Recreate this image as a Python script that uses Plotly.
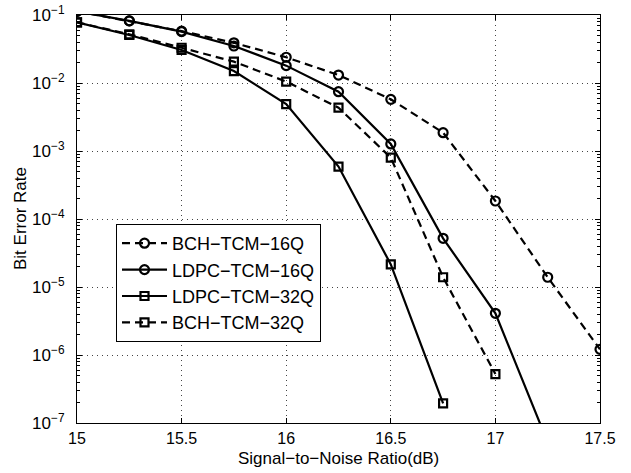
import plotly.graph_objects as go

bch_16q_x = [15, 15.25, 15.5, 15.75, 16, 16.25, 16.5, 16.75, 17, 17.25, 17.5]
bch_16q = [0.113, 0.082, 0.058, 0.039, 0.0239, 0.0131, 0.00575, 0.00186, 1.84e-4, 1.39e-5, 1.21e-6]

ldpc_16q_x = [15, 15.25, 15.5, 15.75, 16, 16.25, 16.5, 16.75, 17, 17.25]
ldpc_16q = [0.113, 0.082, 0.057, 0.035, 0.018, 0.00745, 0.00127, 5.2e-5, 4.1e-6, 5.2e-8]

ldpc_32q_x = [15, 15.25, 15.5, 15.75, 16, 16.25, 16.5, 16.75]
ldpc_32q = [0.078, 0.0508, 0.0306, 0.015, 0.0049, 5.9e-4, 2.15e-5, 1.95e-7]

bch_32q_x = [15, 15.25, 15.5, 15.75, 16, 16.25, 16.5, 16.75, 17]
bch_32q = [0.078, 0.052, 0.033, 0.0206, 0.0105, 0.00434, 7.98e-4, 1.39e-5, 5.25e-7]

names = ["BCH\u2212TCM\u221216Q", "LDPC\u2212TCM\u221216Q", "LDPC\u2212TCM\u221232Q", "BCH\u2212TCM\u221232Q"]

y_tickvals = [1e-7, 1e-6, 1e-5, 1e-4, 1e-3, 1e-2, 1e-1]
y_ticktext = ["10<sup>\u22127</sup>", "10<sup>\u22126</sup>", "10<sup>\u22125</sup>",
              "10<sup>\u22124</sup>", "10<sup>\u22123</sup>", "10<sup>\u22122</sup>",
              "10<sup>\u22121</sup>"]
x_tickvals = [15, 15.5, 16, 16.5, 17, 17.5]
x_ticktext = ["15", "15.5", "16", "16.5", "17", "17.5"]

x_title = "Signal\u2212to\u2212Noise Ratio(dB)"
y_title = "Bit Error Rate"

minor_y = [m * 10 ** e for e in range(-7, -1) for m in range(2, 10)]

DASH = "8px,5px"

series = [
    (bch_16q_x, bch_16q, names[0], DASH, "circle-open", 9),
    (ldpc_16q_x, ldpc_16q, names[1], "solid", "circle-open", 9),
    (ldpc_32q_x, ldpc_32q, names[2], "solid", "square-open", 8),
    (bch_32q_x, bch_32q, names[3], DASH, "square-open", 8),
]

fig = go.Figure()
for xs, ys, nm, dash, sym, sz in series:
    fig.add_trace(go.Scatter(
        x=xs, y=ys, name=nm, mode="lines+markers",
        line=dict(color="black", width=2.2, dash=dash),
        marker=dict(symbol=sym, size=sz, color="black",
                    line=dict(color="black", width=2.2)),
    ))

# invisible helper trace so the right-hand y axis (mirrored minor ticks) is drawn
fig.add_trace(go.Scatter(x=[x_tickvals[0]], y=[y_tickvals[0]], yaxis="y2",
                         mode="markers", marker=dict(opacity=0),
                         showlegend=False, hoverinfo="skip"))

font_family = "Liberation Sans, Arial, sans-serif"

L, R, T, B = 77, 31, 15, 50
W, H = 631, 473
pw, ph = W - L - R, H - T - B

fig.update_layout(
    width=W, height=H,
    margin=dict(l=L, r=R, t=T, b=B, autoexpand=False),
    paper_bgcolor="white", plot_bgcolor="white",
    font=dict(family=font_family, size=17, color="black"),
    showlegend=True,
    legend=dict(
        x=(116 - L) / pw, y=(H - B - 283) / ph, xref="paper", yref="paper",
        xanchor="left", yanchor="middle",
        bgcolor="white", bordercolor="black", borderwidth=1,
        font=dict(size=18, family=font_family, color="black"),
        itemwidth=45, tracegroupgap=0,
    ),
    xaxis=dict(
        range=[15, 17.5], tickvals=x_tickvals, ticktext=x_ticktext,
        showline=True, linecolor="black", linewidth=1.2, mirror="ticks",
        ticks="inside", ticklen=5, tickcolor="black",
        showgrid=True, gridcolor="#444", griddash="1px,4px", gridwidth=1,
        zeroline=False, automargin=False,
        tickfont=dict(size=16), ticklabelstandoff=1,
    ),
    yaxis=dict(
        type="log", range=[-7, -1], tickvals=y_tickvals, ticktext=y_ticktext,
        showline=True, linecolor="black", linewidth=1.2, mirror=True,
        ticks="inside", ticklen=5, tickcolor="black",
        showgrid=True, gridcolor="#444", griddash="1px,4px", gridwidth=1,
        zeroline=False, automargin=False,
        minor=dict(tickvals=minor_y, ticks="inside", ticklen=3,
                   tickcolor="black", showgrid=False),
        tickfont=dict(size=17), ticklabelstandoff=8,
    ),
    yaxis2=dict(
        type="log", range=[-7, -1], overlaying="y", side="right",
        tickvals=y_tickvals, showticklabels=False,
        ticks="inside", ticklen=5, tickcolor="black",
        showline=False, showgrid=False, zeroline=False, automargin=False,
        minor=dict(tickvals=minor_y, ticks="inside", ticklen=3,
                   tickcolor="black", showgrid=False),
    ),
    annotations=[
        dict(text=x_title, xref="paper", yref="paper",
             x=0.5, y=(H - B - 459) / ph, xanchor="center", yanchor="middle",
             showarrow=False, font=dict(size=17)),
        dict(text=y_title, xref="paper", yref="paper",
             x=(20 - L) / pw, y=0.5, xanchor="center", yanchor="middle",
             textangle=-90, showarrow=False, font=dict(size=17)),
    ],
)

fig.write_html("out.html", config={"displayModeBar": False},
               post_script="document.body.style.margin='0';document.body.style.padding='0';")
